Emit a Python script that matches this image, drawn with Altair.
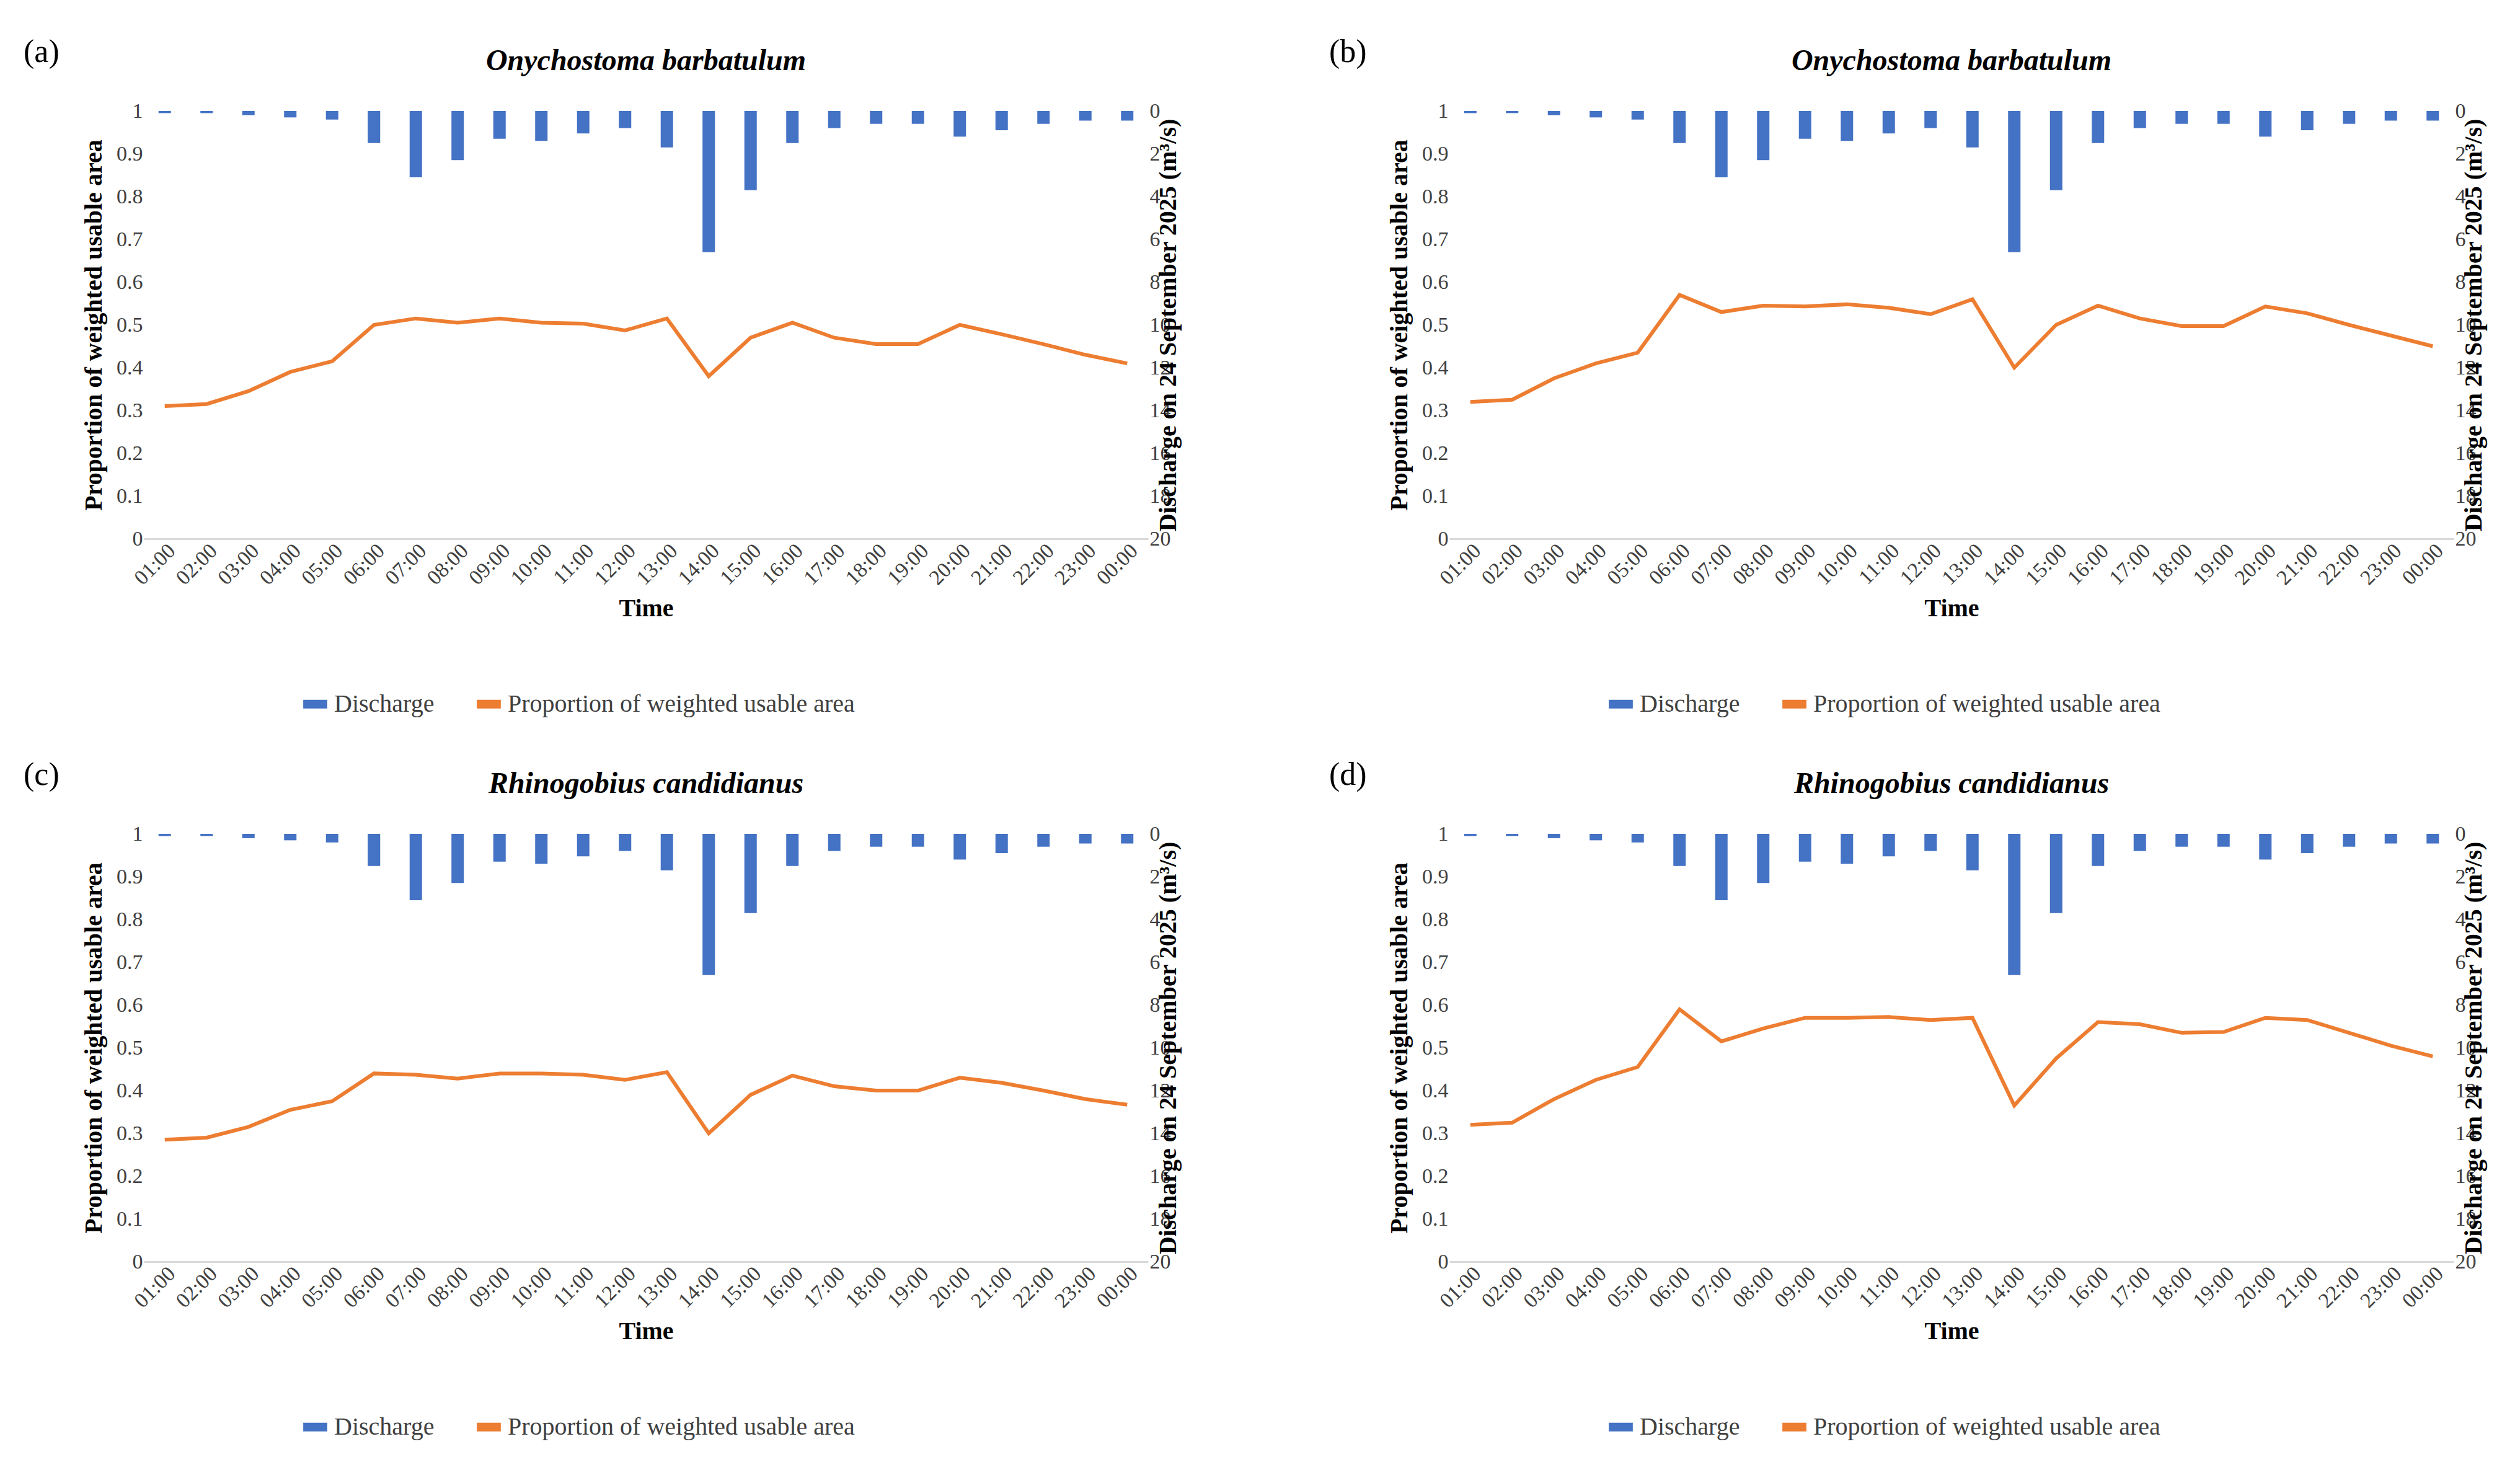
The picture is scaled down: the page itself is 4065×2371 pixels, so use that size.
import pandas as pd
import altair as alt

hours = ["01:00", "02:00", "03:00", "04:00", "05:00", "06:00", "07:00", "08:00",
         "09:00", "10:00", "11:00", "12:00", "13:00", "14:00", "15:00", "16:00",
         "17:00", "18:00", "19:00", "20:00", "21:00", "22:00", "23:00", "00:00"]

discharge = [0.1, 0.1, 0.2, 0.3, 0.4, 1.5, 3.1, 2.3, 1.3, 1.4, 1.05, 0.8,
             1.7, 6.6, 3.7, 1.5, 0.8, 0.6, 0.6, 1.2, 0.9, 0.6, 0.45, 0.45]

wua_a = [0.31, 0.315, 0.345, 0.39, 0.415, 0.50, 0.515, 0.505, 0.515, 0.505, 0.503, 0.487,
         0.515, 0.38, 0.47, 0.505, 0.47, 0.455, 0.455, 0.50, 0.478, 0.455, 0.43, 0.41]
wua_b = [0.32, 0.325, 0.375, 0.41, 0.435, 0.57, 0.53, 0.545, 0.543, 0.548, 0.54, 0.525,
         0.56, 0.40, 0.50, 0.545, 0.515, 0.497, 0.497, 0.543, 0.527, 0.50, 0.475, 0.45]
wua_c = [0.285, 0.29, 0.315, 0.355, 0.375, 0.44, 0.437, 0.428, 0.44, 0.44, 0.437, 0.425,
         0.443, 0.30, 0.39, 0.435, 0.41, 0.40, 0.40, 0.43, 0.418, 0.40, 0.38, 0.367]
wua_d = [0.32, 0.325, 0.38, 0.425, 0.455, 0.59, 0.515, 0.545, 0.57, 0.57, 0.572, 0.565,
         0.57, 0.365, 0.475, 0.56, 0.555, 0.535, 0.537, 0.57, 0.565, 0.535, 0.505, 0.48]

panels = [("(a)", "Onychostoma barbatulum", wua_a),
          ("(b)", "Onychostoma barbatulum", wua_b),
          ("(c)", "Rhinogobius candidianus", wua_c),
          ("(d)", "Rhinogobius candidianus", wua_d)]

FONT = "Liberation Serif"
BLUE = "#4472c4"
ORANGE = "#ed7d31"
W, H = 1620, 690
legend_dom = ["Discharge", "Proportion of weighted usable area"]
col = alt.Scale(domain=legend_dom, range=[BLUE, ORANGE])
leg = alt.Legend(orient="none", legendX=W / 2 - 560, legendY=H + 240,
                 direction="horizontal", title=None)


def panel(tag, species, wua):
    df = pd.DataFrame({"hour": hours, "q": discharge, "wua": wua})
    base = alt.Chart(df)
    x = alt.X("hour:N", sort=hours, title="Time",
              axis=alt.Axis(labelAngle=-45, ticks=False, domainColor="#d9d9d9",
                            domainWidth=3, titlePadding=12))
    bars = base.mark_bar(size=20).encode(
        x=x,
        y=alt.Y("q:Q", scale=alt.Scale(domain=[0, 20], reverse=True),
                title="Discharge on 24 September 2025 (m³/s)",
                axis=alt.Axis(orient="right", values=list(range(0, 21, 2)), grid=False,
                              domain=False, ticks=False, titlePadding=16, titleAngle=270)),
        color=alt.Color("s:N", scale=col, legend=leg),
    ).transform_calculate(s="'Discharge'")
    line = base.mark_line(strokeWidth=6).encode(
        x=x,
        y=alt.Y("wua:Q", scale=alt.Scale(domain=[0, 1]),
                title="Proportion of weighted usable area",
                axis=alt.Axis(orient="left", values=[i / 10 for i in range(11)],
                              format="~g", grid=False, domain=False, ticks=False,
                              titlePadding=16)),
        color=alt.Color("s:N", scale=col, legend=leg),
    ).transform_calculate(s="'Proportion of weighted usable area'")
    label = alt.Chart(pd.DataFrame({"t": [tag]})).mark_text(
        font=FONT, fontSize=52, align="left", baseline="top"
    ).encode(text="t:N", x=alt.value(-194), y=alt.value(-120))
    name = alt.Chart(pd.DataFrame({"t": [species]})).mark_text(
        font=FONT, fontSize=48, fontStyle="italic", fontWeight="bold", baseline="middle"
    ).encode(text="t:N", x=alt.value(W / 2), y=alt.value(-80))
    return alt.layer(bars, line, label, name).resolve_scale(y="independent").properties(
        width=W, height=H)


charts = [panel(*p) for p in panels]
chart = alt.vconcat(
    alt.hconcat(charts[0], charts[1], spacing=240).resolve_scale(color="independent"),
    alt.hconcat(charts[2], charts[3], spacing=240).resolve_scale(color="independent"),
    spacing=60,
).resolve_scale(color="independent").configure_view(stroke=None).configure_axis(
    labelFont=FONT, titleFont=FONT, labelFontSize=34, titleFontSize=40,
    labelColor="#404040", titleColor="black", titleFontWeight="bold"
).configure_legend(
    labelFont=FONT, labelFontSize=40, labelLimit=1000,
    labelColor="#404040", symbolType="stroke", symbolStrokeWidth=14, symbolSize=1500,
    columnPadding=40
).properties(padding={"left": 30, "top": 50, "right": 20, "bottom": 20})

chart.save("out.html", embed_options={"renderer": "svg", "actions": False})
